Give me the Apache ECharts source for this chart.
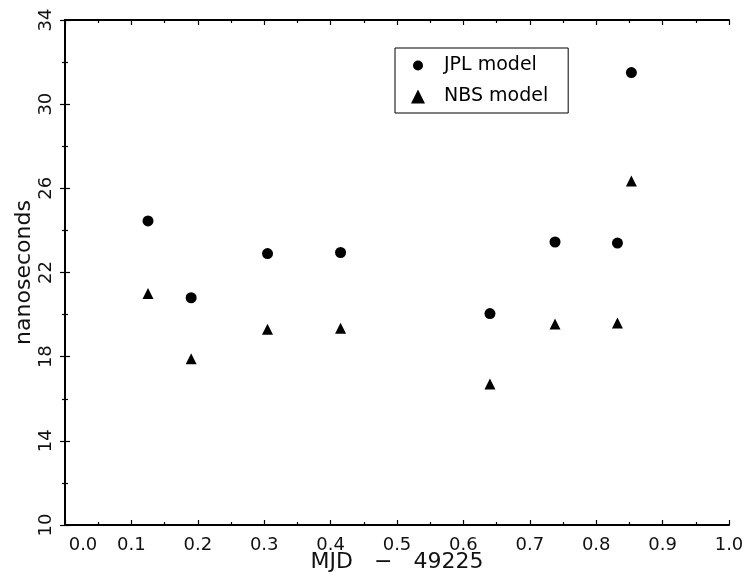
<!DOCTYPE html>
<html>
<head>
<meta charset="utf-8">
<script src="https://cdn.jsdelivr.net/npm/echarts@6/dist/echarts.min.js"></script>
<style>html,body{margin:0;padding:0;background:#fff}#c{width:751px;height:588px}</style>
</head>
<body>
<div id="c"></div>
<script>
var mjd = [0.125, 0.19, 0.305, 0.415, 0.64, 0.738, 0.832, 0.853];
var jplModel = [24.45, 20.8, 22.9, 22.95, 20.05, 23.45, 23.4, 31.5];
var nbsModel = [21.0, 17.9, 19.3, 19.35, 16.7, 19.55, 19.6, 26.35];
var seriesNames = ['JPL model', 'NBS model'];
var xTicks = [0.0, 0.1, 0.2, 0.3, 0.4, 0.5, 0.6, 0.7, 0.8, 0.9, 1.0];
var yTicks = [10, 14, 18, 22, 26, 30, 34];

function pairs(xs, ys) { return xs.map(function (x, i) { return [x, ys[i]]; }); }

var font = 'DejaVu Sans';
var chart = echarts.init(document.getElementById('c'), null, { renderer: 'canvas' });
var axLine = { show: true, lineStyle: { color: '#000', width: 2 } };
var tickIn = { show: true, inside: true, length: 5, lineStyle: { color: '#000', width: 1.2 } };
var minorIn = { show: true, splitNumber: 2, length: 3, lineStyle: { color: '#000', width: 1.2 } };
var smallCircle = 'path://M0,0M14,14M7,2A5,5,0,1,1,7,12A5,5,0,1,1,7,2Z';

chart.setOption({
  animation: false,
  backgroundColor: '#fff',
  grid: { left: 65, right: 22, top: 20, bottom: 63, containLabel: false },
  legend: {
    orient: 'vertical', left: 395, top: 48,
    borderColor: '#000', borderWidth: 1, padding: [8, 20, 7, 16],
    itemGap: 12, itemWidth: 14, itemHeight: 14,
    textStyle: { fontFamily: font, fontSize: 19, color: '#000', padding: [0, 0, 0, 14] },
    data: [
      { name: seriesNames[0], icon: smallCircle, itemStyle: { opacity: 1 } },
      { name: seriesNames[1], icon: 'triangle', itemStyle: { opacity: 1 } }
    ]
  },
  xAxis: [{
    type: 'value', min: 0, max: 1, interval: 0.1, position: 'bottom',
    name: 'MJD   \u2212   49225', nameLocation: 'middle', nameGap: 26, nameMoveOverlap: false,
    nameTextStyle: { fontFamily: font, fontSize: 22, color: '#111' },
    axisLine: axLine, axisTick: tickIn, minorTick: minorIn, splitLine: { show: false },
    axisLabel: {
      margin: 11, fontFamily: font, fontSize: 18, color: '#111',
      formatter: function (v) {
        var s = (Math.round(v * 10) / 10).toFixed(1);
        return v === xTicks[0] ? '{f|' + s + '}' : s;
      },
      rich: { f: { fontFamily: font, fontSize: 18, color: '#111', padding: [0, 0, 0, 36] } }
    }
  }, {
    type: 'value', min: 0, max: 1, interval: 0.1, position: 'top',
    axisLine: axLine, axisTick: tickIn, minorTick: minorIn, axisLabel: { show: false }, splitLine: { show: false }
  }],
  yAxis: [{
    type: 'value', min: yTicks[0], max: yTicks[yTicks.length - 1], interval: 4, position: 'left',
    name: 'nanoseconds', nameLocation: 'middle', nameGap: 30, nameMoveOverlap: false,
    nameTextStyle: { fontFamily: font, fontSize: 22, color: '#111' },
    axisLine: axLine, axisTick: tickIn, minorTick: minorIn, splitLine: { show: false },
    axisLabel: { rotate: 90, margin: 10, fontFamily: font, fontSize: 18, color: '#111' }
  }, {
    type: 'value', min: yTicks[0], max: yTicks[yTicks.length - 1], interval: 4, position: 'right',
    axisLine: axLine, axisTick: tickIn, minorTick: minorIn, axisLabel: { show: false }, splitLine: { show: false }
  }],
  series: [{
    name: seriesNames[0], type: 'scatter', symbol: 'circle', symbolSize: 11,
    itemStyle: { color: '#000', opacity: 1 }, data: pairs(mjd, jplModel)
  }, {
    name: seriesNames[1], type: 'scatter', symbol: 'triangle', symbolSize: 11,
    itemStyle: { color: '#000', opacity: 1 }, data: pairs(mjd, nbsModel)
  }]
});
</script>
</body>
</html>
